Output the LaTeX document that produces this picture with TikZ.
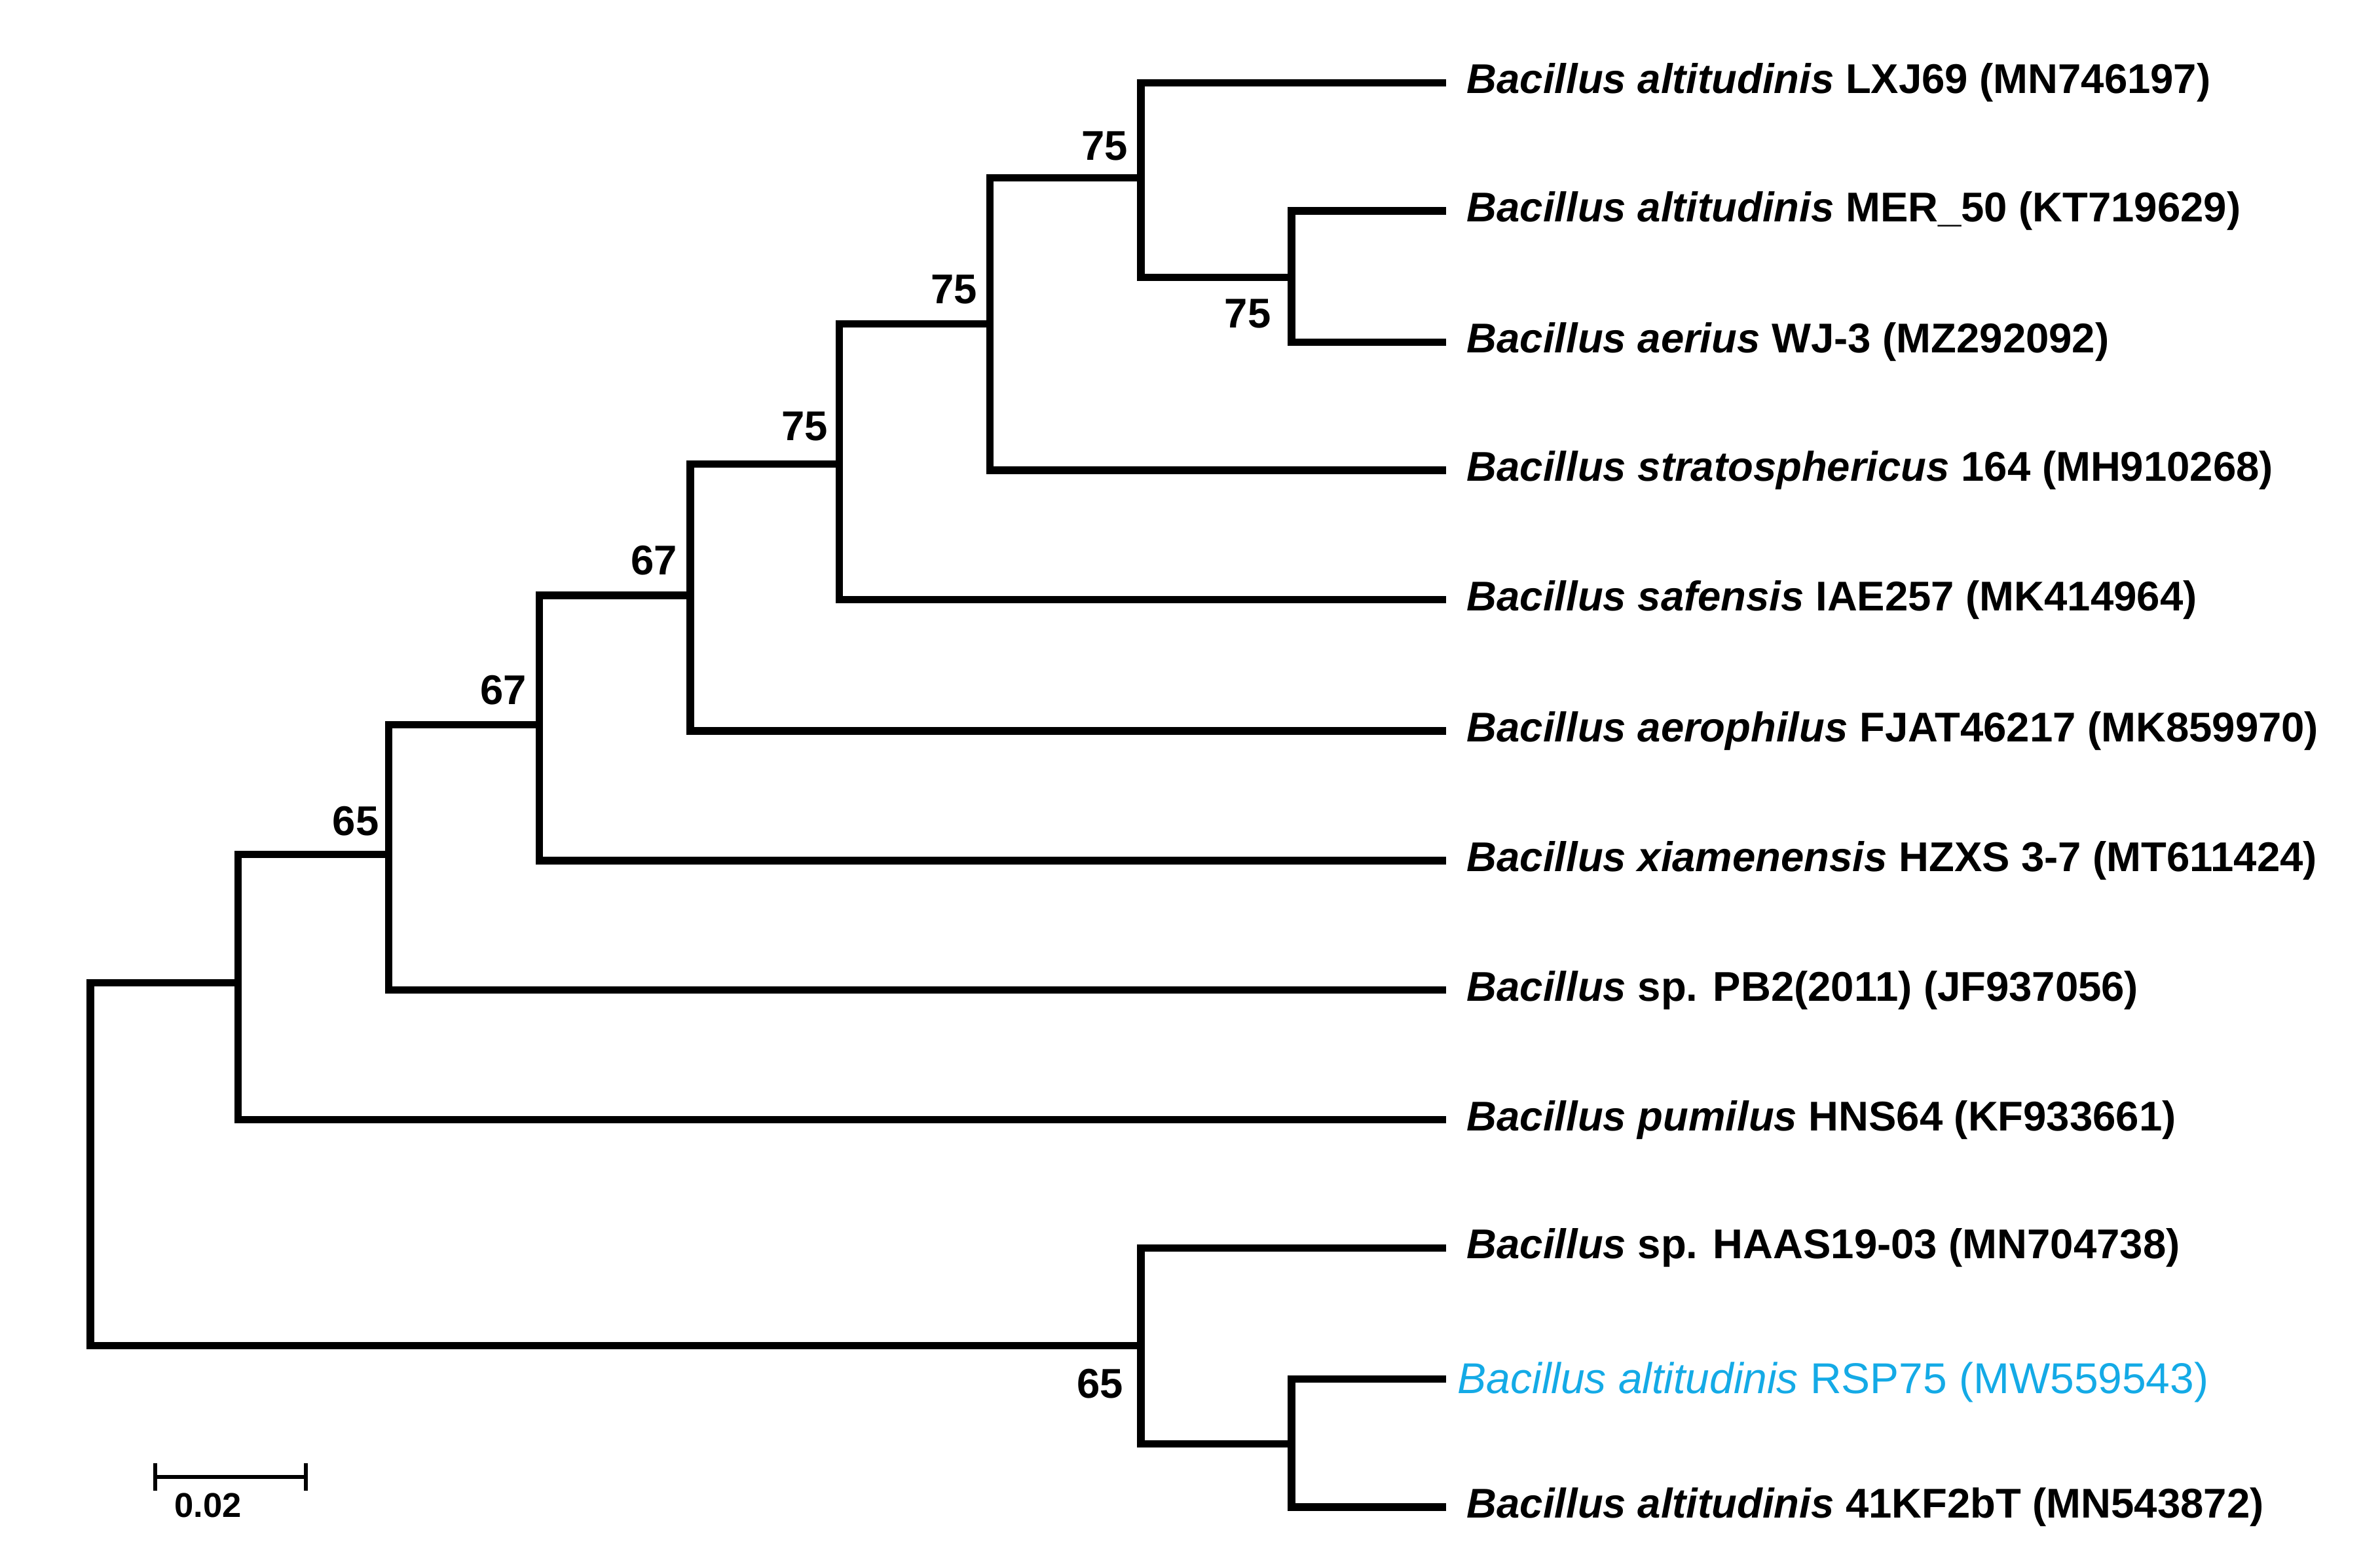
\documentclass[tikz,border=0pt]{standalone}
\usepackage{fontspec}
\setmainfont{Liberation Sans}
\begin{document}
\begin{tikzpicture}[x=0.02cm,y=-0.02cm,
  br/.style={line width=2.8pt,line cap=rect},
  leaf/.style={anchor=west,inner sep=0pt,font=\fontsize{15.7}{18}\selectfont\bfseries},
  bs/.style={font=\fontsize{15.7}{18}\selectfont\bfseries,inner sep=0pt}]
\useasboundingbox (0,0) rectangle (1568,1040);
\definecolor{hl}{RGB}{20,170,230}
\foreach \n/\y in {1/55,2/140,3/227,4/312,5/398,6/485,7/571,8/657,9/743,10/828,11/915,12/1000}
  \coordinate (l\n) at (957,\y);
\draw[br] (60,652) -- (158,652); \draw[br] (60,652) -- (60,893) -- (757,893);
\draw[br] (158,567) -- (258,567); \draw[br] (158,567) -- (158,743) -- (l9);
\draw[br] (258,481) -- (358,481); \draw[br] (258,481) -- (258,657) -- (l8);
\draw[br] (358,395) -- (458,395); \draw[br] (358,395) -- (358,571) -- (l7);
\draw[br] (458,308) -- (557,308); \draw[br] (458,308) -- (458,485) -- (l6);
\draw[br] (557,215) -- (657,215); \draw[br] (557,215) -- (557,398) -- (l5);
\draw[br] (657,118) -- (757,118); \draw[br] (657,118) -- (657,312) -- (l4);
\draw[br] (757,55) -- (l1); \draw[br] (757,55) -- (757,184) -- (857,184);
\draw[br] (857,140) -- (l2); \draw[br] (857,140) -- (857,227) -- (l3);
\draw[br] (757,828) -- (l10); \draw[br] (757,828) -- (757,958) -- (857,958);
\draw[br] (857,915) -- (l11); \draw[br] (857,915) -- (857,1000) -- (l12);
% bootstrap
\node[bs] (b1) at (733,97) {75};
\node[bs] (b2) at (828,208) {75};
\node[bs] (b3) at (633,192) {75};
\node[bs] (b4) at (534,283) {75};
\node[bs] (b5) at (434,372) {67};
\node[bs] (b6) at (334,458) {67};
\node[bs] (b7) at (236,545) {65};
\node[bs] (b8) at (730,918) {65};
% labels
\node[leaf] (t1) at (973,55) {\textit{Bacillus altitudinis} LXJ69 (MN746197)};
\node[leaf] (t2) at (973,140) {\textit{Bacillus altitudinis} MER\_50 (KT719629)};
\node[leaf] (t3) at (973,227) {\textit{Bacillus aerius} WJ-3 (MZ292092)};
\node[leaf] (t4) at (973,312) {\textit{Bacillus stratosphericus} 164 (MH910268)};
\node[leaf] (t5) at (973,398) {\textit{Bacillus safensis} IAE257 (MK414964)};
\node[leaf] (t6) at (973,485) {\textit{Bacillus aerophilus} FJAT46217 (MK859970)};
\node[leaf] (t7) at (973,571) {\textit{Bacillus xiamenensis} HZXS 3-7 (MT611424)};
\node[leaf] (t8) at (973,657) {\textit{Bacillus} sp. PB2(2011) (JF937056)};
\node[leaf] (t9) at (973,743) {\textit{Bacillus pumilus} HNS64 (KF933661)};
\node[leaf] (t10) at (973,828) {\textit{Bacillus} sp. HAAS19-03 (MN704738)};
\node[leaf,text=hl,font=\fontsize{16.3}{18}\selectfont] (t11) at (967,917) {\textit{Bacillus altitudinis} RSP75 (MW559543)};
\node[leaf] (t12) at (973,1000) {\textit{Bacillus altitudinis} 41KF2bT (MN543872)};
% scale bar
\coordinate (s1) at (103,980); \coordinate (s2) at (203,980);
\draw[line width=1.6pt] (s1) -- (s2);
\draw[line width=1.6pt] (103,971) -- (103,989);
\draw[line width=1.6pt] (203,971) -- (203,989);
\node[bs,font=\fontsize{13}{14}\selectfont\bfseries] (sl) at (138,999) {0.02};
\end{tikzpicture}
\end{document}
